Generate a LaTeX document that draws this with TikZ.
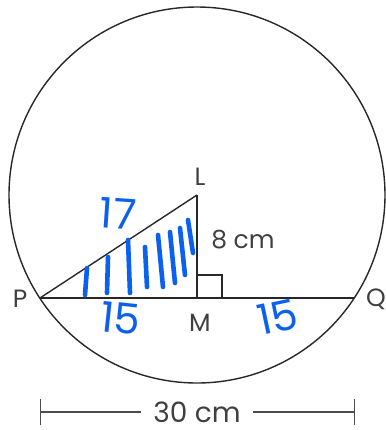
\documentclass[tikz,border=0pt]{standalone}
\usepackage{fontspec}
\setmainfont{Poppins}
\usepackage{tikz}
\usetikzlibrary{arrows.meta,positioning,calc}
\definecolor{InkBlue}{RGB}{12,96,240}
\definecolor{LineGrey}{RGB}{40,40,40}

\begin{document}
\begin{tikzpicture}[
  x=0.5pt,
  y=-0.5pt,
  lbl/.style={
    text=black!75,
    inner sep=1pt,
    font=\fontsize{12.5}{14}\selectfont
  },
  edge/.style={draw=LineGrey, line width=0.7pt},
  ink/.style={draw=InkBlue, line width=2.3pt, line cap=round},
  note/.style={
    text=InkBlue,
    inner sep=0pt,
    font=\fontsize{21}{21}\selectfont
  },
  dim/.style={draw=black!70, line width=0.6pt}
]
\useasboundingbox (0,0) rectangle (386,430);

% Points of the figure
\coordinate (O) at (197,195);
\coordinate (L) at (197,195);
\coordinate (M) at (197,298);
\coordinate (P) at (40,298);
\coordinate (Q) at (354,298);

% Circle, chord and triangle
\draw[edge] (O) circle[radius=94pt];
\draw[edge] (P) -- (Q);
\draw[edge] (P) -- (L);
\draw[edge] (L) -- (M);
\draw[edge] ($(M)+(0,-23)$) -| ($(M)+(25,0)$);

% Labels
\node[lbl] (labL) at (200,177) {L};
\node[lbl] (labM) at (200,323) {M};
\node[lbl] (labP) at (20,299) {P};
\node[lbl] (labQ) at (376,299) {Q};
\node[lbl] (len) at (243,240) {8 cm};

% Handwritten notes
\foreach \xa/\ya/\xb/\yb in {87/268/85/295, 108/257/107/293, 128/240/130/293,
  145/247/147/287, 158/235/163/287, 170/232/175/283, 180/228/185/275, 188/220/193/253}
  \draw[ink] (\xa,\ya) -- (\xb,\yb);
\node[note, rotate=-4] (n17) at (118,214) {17};
\node[note, rotate=-6] (n15a) at (121,318) {15};
\node[note, rotate=12] (n15b) at (278,317) {15};

% Dimension line
\node[lbl, inner sep=6pt, font=\fontsize{14}{16}\selectfont] (width) at (197,412) {30 cm};
\coordinate (dl) at (40,412);
\coordinate (dr) at (355,412);
\draw[dim, {Bar[width=13pt]}-] (dl) -- (width.west);
\draw[dim, -{Bar[width=13pt]}] (width.east) -- (dr);
\end{tikzpicture}
\end{document}
